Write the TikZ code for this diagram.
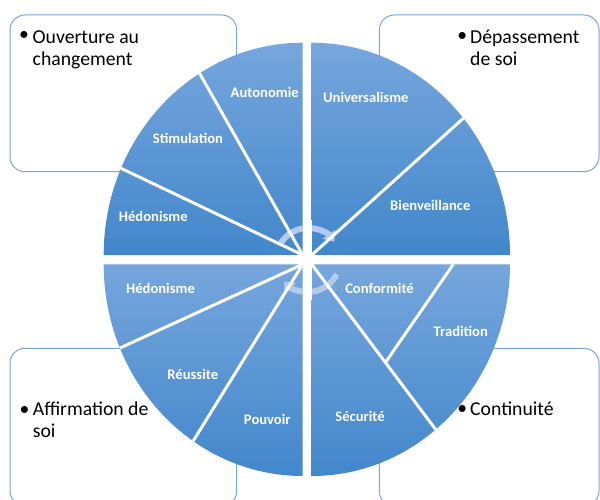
\documentclass[tikz,border=0pt]{standalone}
\usepackage{fontspec}
\setmainfont{Carlito}
\usetikzlibrary{arrows.meta}
\definecolor{boxline}{RGB}{120,165,220}
\definecolor{qtop}{RGB}{118,166,221}
\definecolor{qbot}{RGB}{66,135,203}
\definecolor{ring}{RGB}{178,203,234}
\begin{document}
\begin{tikzpicture}[x=1pt,y=-1pt,
  tbox/.style={draw=boxline, line width=1pt, fill=white, rounded corners=15pt},
  quad/.style={top color=qtop, bottom color=qbot, draw=none},
  divider/.style={draw=white, line width=3pt},
  seglabel/.style={text=white, font=\fontsize{14.6}{16}\selectfont\bfseries, inner sep=0pt},
  bul/.style={font=\fontsize{19.7}{22}\selectfont, inner sep=0pt},
  btext/.style={font=\fontsize{19.7}{22}\selectfont, inner sep=0pt, anchor=base west},
  ringarc/.style={draw=ring, line width=6pt, -{Triangle[width=15pt,length=9pt]}}
]
\useasboundingbox (0,0) rectangle (600,500);
\clip (0,0) rectangle (600,500);
% text boxes
\draw[tbox] (10,15) rectangle (236.7,171.7);
\draw[tbox] (379.3,15) rectangle (599,171.7);
\draw[tbox] (10,348.3) rectangle (236.7,506);
\draw[tbox] (379.3,348.3) rectangle (599,506);
% quadrant corners
\coordinate (c1) at (302.7,255);
\coordinate (c2) at (311.7,255);
\coordinate (c3) at (302.7,264.3);
\coordinate (c4) at (311.7,264.3);
% quadrants
\path[quad] (c1) -- ++(-199pt,0pt) arc[start angle=180,end angle=90,x radius=199pt,y radius=212.3pt] -- cycle;
\path[quad] (c2) -- ++(0pt,212.3pt) arc[start angle=90,end angle=0,x radius=198.3pt,y radius=212.3pt] -- cycle;
\path[quad] (c3) -- ++(-199pt,0pt) arc[start angle=180,end angle=270,x radius=199pt,y radius=211.7pt] -- cycle;
\path[quad] (c4) -- ++(198.3pt,0pt) arc[start angle=0,end angle=-90,x radius=198.3pt,y radius=211.7pt] -- cycle;
% central cycle arrows
\coordinate (o) at (308,260);
\draw[ringarc] (o) ++(148:32pt) arc[start angle=148,end angle=35,radius=32pt];
\draw[ringarc] (o) ++(-26:32pt) arc[start angle=-26,end angle=-138,radius=32pt];
% gaps
\fill[white] (302.7,220) rectangle (311.7,300);
\fill[white] (268,255) rectangle (348,264.3);
% dividers
\draw[divider] (c1) -- ++(121.2:199pt and 212.3pt) coordinate (e1);
\draw[divider] (c1) -- ++(155.9:199pt and 212.3pt) coordinate (e2);
\draw[divider] (c2) -- ++(40.1:198.3pt and 212.3pt) coordinate (e3);
\draw[divider] (c3) -- ++(203.3:199pt and 211.7pt) coordinate (e4);
\draw[divider] (c3) -- ++(236.6:199pt and 211.7pt) coordinate (e5);
\draw[divider] (c4) -- ++(-51.3:198.3pt and 211.7pt) coordinate (e6);
\coordinate (s1) at (453.3,264.3);
\coordinate (s2) at (385.5,362.4);
\draw[divider] (s1) -- (s2);
% segment labels
\node[seglabel] (autonomie) at (264.7,92) {Autonomie};
\node[seglabel] (stimulation) at (188,138.7) {Stimulation};
\node[seglabel] (hedonisme1) at (153.3,216.7) {Hédonisme};
\node[seglabel] (universalisme) at (365.8,97.3) {Universalisme};
\node[seglabel] (bienveillance) at (430.3,205.3) {Bienveillance};
\node[seglabel] (hedonisme2) at (160.5,288.3) {Hédonisme};
\node[seglabel] (reussite) at (192.8,374.2) {Réussite};
\node[seglabel] (pouvoir) at (267.3,419.3) {Pouvoir};
\node[seglabel] (conformite) at (379.5,288.3) {Conformité};
\node[seglabel] (tradition) at (460.8,331) {Tradition};
\node[seglabel] (securite) at (360,416) {Sécurité};
% box texts
\node[bul] (b1) at (24,36.3) {•};
\node[btext] (t1a) at (32.5,43.5) {Ouverture au};
\node[btext] (t1b) at (32.5,65.5) {changement};
\node[bul] (b2) at (462.2,36.7) {•};
\node[btext] (t2a) at (470,43.5) {Dépassement};
\node[btext] (t2b) at (470,65.5) {de soi};
\node[bul] (b3) at (24.5,410.5) {•};
\node[btext] (t3a) at (32.7,415.7) {Affirmation de};
\node[btext] (t3b) at (32.7,437.3) {soi};
\node[bul] (b4) at (462.2,409.5) {•};
\node[btext] (t4a) at (470,415.7) {Continuité};
\end{tikzpicture}
\end{document}
